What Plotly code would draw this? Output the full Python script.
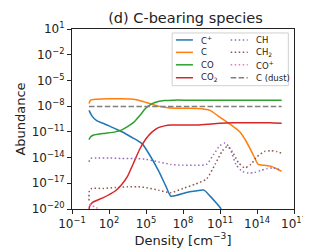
import plotly.graph_objects as go

# ---- data (log10 density, log10 abundance) ----
cp_logn = [0.38, 0.6, 1.0, 1.5, 2.0, 2.6, 3.2, 3.8, 4.3, 4.7, 5.3, 6.0, 6.6, 7.0, 7.5, 8.2, 9.0, 9.7, 10.2, 10.7, 11.1]
cp_logx = [-8.5, -9.1, -9.7, -10.0, -10.3, -10.7, -11.1, -11.6, -12.0, -12.4, -13.7, -15.5, -17.3, -18.5, -18.4, -18.1, -17.9, -17.8, -18.5, -19.3, -20.0]

c_logn = [0.38, 0.5, 1.0, 2.0, 3.0, 4.0, 4.6, 5.3, 6.0, 6.8, 7.5, 8.5, 9.5, 10.2, 10.8, 11.4, 12.0, 12.6, 13.2, 13.7, 14.1, 14.6, 15.1, 15.6, 16.0]
c_logx = [-7.7, -7.3, -7.2, -7.15, -7.15, -7.2, -7.4, -7.7, -8.0, -8.2, -8.25, -8.25, -8.3, -8.5, -9.1, -9.7, -10.3, -11.0, -12.3, -13.7, -14.8, -14.9, -15.0, -15.3, -15.6]

co_logn = [0.38, 0.5, 0.7, 1.5, 2.5, 3.0, 3.5, 4.0, 4.5, 5.0, 5.5, 6.0, 6.5, 7.2, 8.5, 10.0, 12.0, 14.0, 16.0]
co_logx = [-11.9, -11.6, -11.4, -11.2, -11.0, -10.8, -10.4, -9.9, -9.1, -8.2, -7.7, -7.45, -7.35, -7.3, -7.3, -7.3, -7.3, -7.3, -7.3]

co2_logn = [0.38, 0.45, 0.7, 1.5, 2.5, 3.0, 3.5, 4.0, 4.5, 5.0, 5.5, 6.0, 6.5, 7.0, 8.0, 9.0, 10.0, 11.0, 12.0, 13.0, 14.0, 15.0, 16.0]
co2_logx = [-20.0, -19.6, -19.2, -18.7, -17.9, -17.2, -16.2, -14.6, -13.0, -11.8, -11.0, -10.5, -10.3, -10.2, -10.2, -10.2, -10.1, -10.0, -9.95, -9.95, -9.95, -9.95, -10.0]

ch_logn = [0.38, 0.5, 1.0, 2.0, 3.0, 4.0, 5.0, 6.0, 7.0, 8.0, 9.0, 9.9, 10.5, 11.0, 11.4, 11.8, 12.3, 12.8, 13.3, 13.8, 14.3, 14.8, 15.3, 16.0]
ch_logx = [-14.5, -14.1, -14.05, -14.05, -14.1, -14.1, -14.2, -14.5, -14.8, -14.9, -14.9, -14.8, -13.6, -12.6, -12.3, -12.9, -14.8, -15.6, -15.8, -15.75, -15.5, -15.3, -15.2, -15.5]

ch2_logn = [0.38, 0.42, 0.6, 1.5, 2.5, 3.5, 4.3, 5.0, 6.0, 7.0, 8.0, 9.0, 9.9, 10.6, 11.2, 11.6, 12.0, 12.5, 13.0, 13.5, 14.0, 14.6, 15.1, 15.6, 16.0]
ch2_logx = [-19.0, -17.8, -17.6, -17.6, -17.5, -17.4, -17.4, -17.5, -17.8, -18.1, -17.6, -17.1, -16.5, -14.8, -13.2, -12.7, -13.3, -14.6, -15.2, -14.8, -13.9, -13.3, -13.2, -13.3, -13.5]

cop_logn = [0.38, 0.6, 0.9, 1.2]
cop_logx = [-19.5, -19.6, -19.8, -20.0]

dust_logn = [0.38, 16.0]
dust_logx = [-8.05, -8.05]

series_names = ["C<sup>+</sup>", "C", "CO", "CO<sub>2</sub>", "CH", "CH<sub>2</sub>", "CO<sup>+</sup>", "C (dust)"]

xtick_exp = [-1, 2, 5, 8, 11, 14, 17]
ytick_exp = [1, -2, -5, -8, -11, -14, -17, -20]

# ---- styling ----
colors = ["#1f77b4", "#ff7f0e", "#2ca02c", "#d62728", "#9467bd", "#8c564b", "#e377c2", "#7f7f7f"]
dashes = ["solid", "solid", "solid", "solid", "1.5px,2.5px", "1.5px,2.5px", "1.5px,2.5px", "5.5px,2.4px"]
data = [(cp_logn, cp_logx), (c_logn, c_logx), (co_logn, co_logx), (co2_logn, co2_logx),
        (ch_logn, ch_logx), (ch2_logn, ch2_logx), (cop_logn, cop_logx), (dust_logn, dust_logx)]

W, H = 311, 248
ML, MR, MT, MB = 60, 16, 21, 46
PW, PH = W - ML - MR, H - MT - MB

def px_x(px):
    return (px - ML) / PW

def px_y(py):
    return (H - MB - py) / PH

fig = go.Figure()
for (xs, ys), name, col, dash in zip(data, series_names, colors, dashes):
    fig.add_trace(go.Scatter(
        x=[10 ** v for v in xs], y=[10 ** v for v in ys], mode="lines", name=name,
        line=dict(color=col, width=1.5, dash=dash, shape="spline", smoothing=0.6),
        showlegend=False, hoverinfo="skip"))

font = "DejaVu Sans"

shapes = []
annotations = []
# legend box
shapes.append(dict(type="rect", xref="paper", yref="paper", x0=px_x(166), x1=px_x(289),
                   y0=px_y(78), y1=px_y(25), line=dict(color="#d0d0d0", width=1),
                   fillcolor="rgba(255,255,255,0.8)", layer="above"))
rows_y = [32, 44.5, 57, 70]
for i, (name, col, dash) in enumerate(zip(series_names, colors, dashes)):
    c = i // 4
    r = i % 4
    x0 = 170 if c == 0 else 228
    tx = 194 if c == 0 else 253
    yy = rows_y[r]
    shapes.append(dict(type="line", xref="paper", yref="paper", x0=px_x(x0), x1=px_x(x0 + 18),
                       y0=px_y(yy), y1=px_y(yy), line=dict(color=col, width=1.5, dash=dash), layer="above"))
    annotations.append(dict(xref="paper", yref="paper", x=px_x(tx), y=px_y(yy), text=name,
                            showarrow=False, xanchor="left", yanchor="middle",
                            font=dict(family=font, size=8.5, color="#222")))

fig.update_layout(
    width=W, height=H,
    margin=dict(l=ML, r=MR, t=MT, b=MB),
    paper_bgcolor="white", plot_bgcolor="white",
    font=dict(family=font, color="#222"),
    title=dict(text="(d) C-bearing species", x=(ML + PW / 2) / W, xanchor="center",
               y=1 - 10 / H, yanchor="middle", font=dict(size=14.5, family=font, color="#222")),
    xaxis=dict(type="log", range=[-1, 17], tickvals=[10 ** e for e in xtick_exp],
               ticktext=["10<sup>%s</sup>" % str(e).replace("-", "\u2212") for e in xtick_exp],
               ticks="outside", ticklen=4, tickcolor="#222", showline=True, linecolor="#222",
               linewidth=1, mirror=True, showgrid=False, zeroline=False,
               tickfont=dict(size=12, family=font, color="#222"),
               title=dict(text="Density [cm<sup>\u22123</sup>]", font=dict(size=13, family=font, color="#222"), standoff=3)),
    yaxis=dict(type="log", range=[-20, 1], tickvals=[10 ** e for e in ytick_exp],
               ticktext=["10<sup>%s</sup>" % str(e).replace("-", "\u2212") for e in ytick_exp],
               ticks="outside", ticklen=4, tickcolor="#222", showline=True, linecolor="#222",
               linewidth=1, mirror=True, showgrid=False, zeroline=False,
               tickfont=dict(size=12, family=font, color="#222"),
               title=dict(text="Abundance", font=dict(size=13, family=font, color="#222"), standoff=3)),
    shapes=shapes, annotations=annotations,
)

fig.write_html("out.html")
